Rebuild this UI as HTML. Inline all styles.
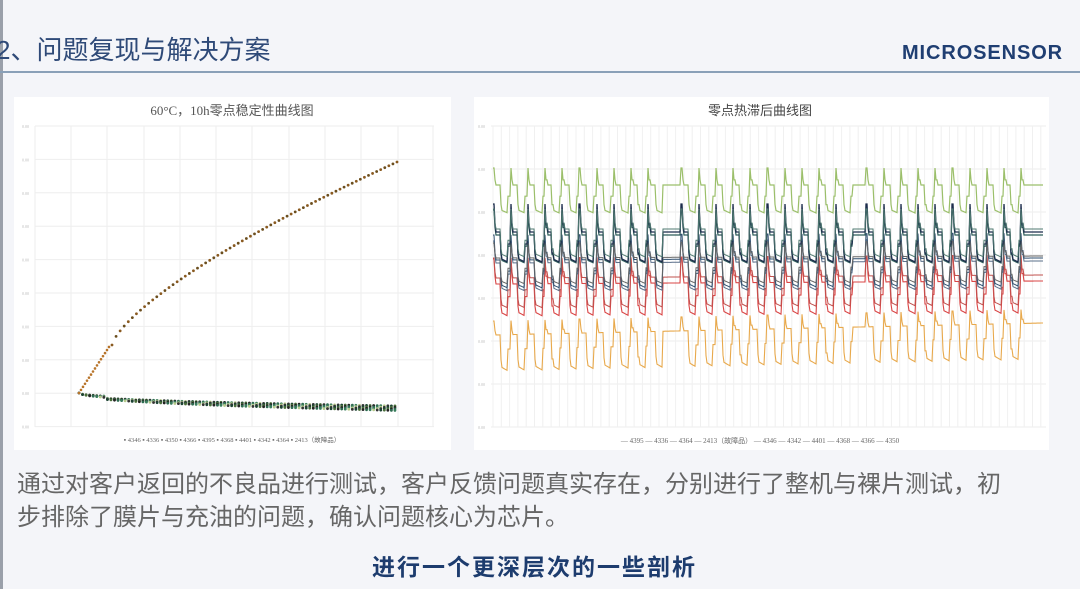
<!DOCTYPE html>
<html><head><meta charset="utf-8"><style>
body{margin:0;width:1080px;height:589px;background:#f4f5f9;overflow:hidden;position:relative;font-family:"Liberation Sans","Noto Sans CJK SC",sans-serif}
.t{position:absolute}
</style></head><body>
<div class="t" style="left:0;top:0;width:3px;height:589px;background:#9aa0aa"></div>
<div class="t" style="left:-4px;top:30px;font-size:26px;color:#2f4a78">2、问题复现与解决方案</div>
<div class="t" style="left:902px;top:42px;font-size:20px;font-weight:bold;color:#1f3e72;letter-spacing:0.9px">MICROSENSOR</div>
<div class="t" style="left:0;top:71px;width:1080px;height:2px;background:#8aa0b8"></div>
<div class="t" style="left:14px;top:97px;width:437px;height:353px;background:#fff"></div>
<div class="t" style="left:474px;top:97px;width:575px;height:353px;background:#fff"></div>
<svg class="t" style="left:0;top:0" width="1080" height="589" id="s"></svg>
<div class="t" style="left:17px;top:468px;font-size:24px;color:#666;line-height:33px;white-space:nowrap">通过对客户返回的不良品进行测试，客户反馈问题真实存在，分别进行了整机与裸片测试，初<br>步排除了膜片与充油的问题，确认问题核心为芯片。</div>
<div class="t" style="left:372px;top:548px;font-size:23px;font-weight:bold;color:#1d3c6e;letter-spacing:2px">进行一个更深层次的一些剖析</div>
<script>
var s=document.getElementById('s'),h='';
function L(x1,y1,x2,y2,c,w){h+='<line x1="'+x1+'" y1="'+y1+'" x2="'+x2+'" y2="'+y2+'" stroke="'+c+'" stroke-width="'+(w||1)+'"/>';}
function T(x,y,t,sz,c,a){h+='<text x="'+x+'" y="'+y+'" font-size="'+sz+'" fill="'+c+'" text-anchor="'+(a||'start')+'" font-family="Liberation Serif,Noto Sans CJK SC,serif">'+t+'</text>';}
T(232,115,'60°C，10h零点稳定性曲线图',13,'#555','middle');
for(var i=0;i<10;i++){var y=126+i*33.4;L(35,y,434,y,'#eee');T(22,y+2,'0.00',4,'#bbb');}
var vx=[35,71,107,144,180,216,252,289,325,361,398,433];vx.forEach(function(x){L(x,126,x,427,'#eee');});
var cols=['#2d6a4f','#3a7d5c','#b5c98a','#333','#1b4332','#4a6f3a','#222'];
for(var k=0;k<90;k++){var x=79+k*3.55;var f=Math.sqrt(k/90);
 for(var j=0;j<4;j++){var y=393+f*(11+j*1.5)+(k<8?0:2);h+='<circle cx="'+x+'" cy="'+y+'" r="1.4" fill="'+cols[(j+k)%7]+'"/>';}}
for(var k=0;k<16;k++){var x=79+k*2,y=393-k*3.07;h+='<circle cx="'+x+'" cy="'+y+'" r="1.3" fill="#b8742a"/>';}
for(var k=0;k<=70;k++){var t=k/70,x=112+t*285,y=345-183*Math.pow(t,0.72);h+='<circle cx="'+x+'" cy="'+y+'" r="1.4" fill="'+(k%2?'#6b4e1e':'#8a5a20')+'"/>';}
T(232,442,'▪ 4346 ▪ 4336 ▪ 4350 ▪ 4366 ▪ 4395 ▪ 4368 ▪ 4401 ▪ 4342 ▪ 4364 ▪ 2413（故障品）',6.5,'#666','middle');
T(760,115,'零点热滞后曲线图',13,'#444','middle');
for(var i=0;i<8;i++){var y=126+i*43;L(491,y,1046,y,'#eee');T(478,y+2,'0.00',4,'#bbb');}
for(var x=493;x<1046;x+=8.3)L(x,126,x,427,'#f0f0f0');
function inBlock(x){return (x>=493&&x<663)||(x>=681&&x<853)||(x>=866&&x<1025);}
function ser(base,spike,low,c,w,trend){var p='';for(var x=493;x<=1043;x+=1){var y=base+trend*(x-493)/550;
 if(inBlock(x)){var st=x<663?493:(x<853?681:866);var ph=((x-st)%17.2)/17.2;
  if(ph<0.06)y=y+spike;else if(ph<0.14)y=y+spike*0.3;else if(ph<0.42)y=y;else if(ph<0.5)y=y+low*0.7;else if(ph<0.85)y=y+low*(0.9+0.1*(ph-0.5)/0.35);else y=y+low*0.4;}
 p+=(x==493?'M':'L')+x+' '+y.toFixed(1);}
 h+='<path d="'+p+'" fill="none" stroke="'+c+'" stroke-width="'+w+'"/>';}
ser(335,-14,36,'#e8a94c',1.1,-12);
ser(284,-25,32,'#d94545',1.1,-3);
ser(278,-20,30,'#c0504d',1,-3);
ser(263,-22,28,'#5a6f8a',1,-2);
ser(260,-25,28,'#2f4f6f',1,-2);
ser(258,-15,26,'#666',1,-2);
ser(235,-25,28,'#2e5d5a',1.2,0);
ser(232,-28,30,'#1c2c4c',1.3,0);
ser(229,-20,28,'#4f7a70',1,0);
ser(185,-17,28,'#9bbf6a',1.2,0);
T(760,443,'— 4395 — 4336 — 4364 — 2413（故障品） — 4346 — 4342 — 4401 — 4368 — 4366 — 4350',7,'#666','middle');
s.innerHTML=h;
</script>
</body></html>
